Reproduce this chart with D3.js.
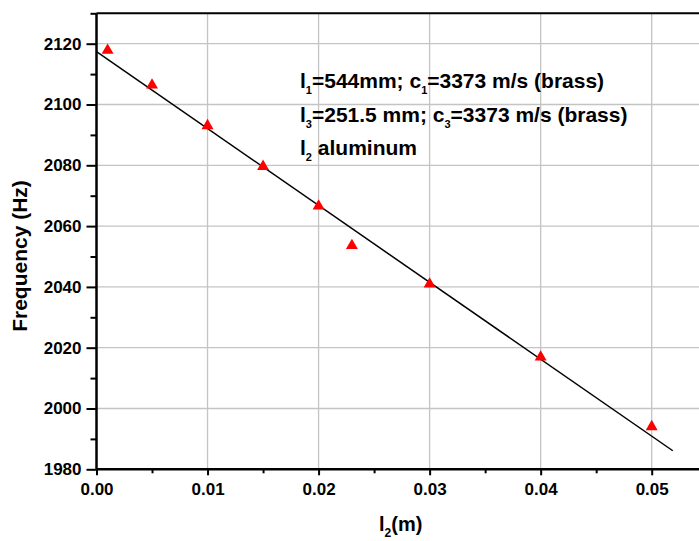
<!DOCTYPE html>
<html>
<head>
<meta charset="utf-8">
<script src="https://cdn.jsdelivr.net/npm/d3@7"></script>
<style>
body { margin: 0; background: #fff; }
svg text { font-family: "Liberation Sans", Arial, sans-serif; font-weight: bold; }
</style>
</head>
<body>
<div id="chart"></div>
<script>
// measured points: l2 (m) vs frequency (Hz)
var lengths = [0.001, 0.005, 0.010, 0.015, 0.020, 0.023, 0.030, 0.040, 0.050];
var freqs   = [2117.8, 2106.4, 2093.0, 2079.6, 2066.6, 2053.6, 2040.9, 2016.9, 1994.0];

// linear fit line end points
var fitX = [0.0, 0.0519];
var fitY = [2117.4, 1986.1];

var xTicks = [0.00, 0.01, 0.02, 0.03, 0.04, 0.05];
var yTicks = [1980, 2000, 2020, 2040, 2060, 2080, 2100, 2120];

var noteLines = [
    [["l", ""], ["1", "sub"], ["=544mm; c", ""], ["1", "sub"], ["=3373 m/s (brass)", ""]],
    [["l", ""], ["3", "sub"], ["=251.5 mm; c", ""], ["3", "sub"], ["=3373 m/s (brass)", ""]],
    [["l", ""], ["2", "sub"], [" aluminum", ""]]
];

var W = 699, H = 541;
var margin = {left: 96.5, top: 13.3};
var plotH = 469.3 - margin.top;

var x = d3.scaleLinear().domain([0, 0.055]).range([0, 0.055 * 11104]);
var y = d3.scaleLinear().domain([1980, 2130]).range([plotH, 0]);

var svg = d3.select("#chart").append("svg")
    .attr("width", W).attr("height", H);
var g = svg.append("g")
    .attr("transform", "translate(" + margin.left + "," + margin.top + ")");

// grid
g.append("g").selectAll("line").data(xTicks.slice(1)).enter().append("line")
    .attr("x1", d => x(d)).attr("x2", d => x(d))
    .attr("y1", 0).attr("y2", plotH)
    .attr("stroke", "#c4c4c4").attr("stroke-width", 1.3);
g.append("g").selectAll("line").data(yTicks.slice(1)).enter().append("line")
    .attr("x1", 0).attr("x2", W)
    .attr("y1", d => y(d)).attr("y2", d => y(d))
    .attr("stroke", "#c4c4c4").attr("stroke-width", 1.3);

// top border
g.append("line").attr("x1", 0).attr("x2", W).attr("y1", 0).attr("y2", 0)
    .attr("stroke", "#000").attr("stroke-width", 2);

// axes
var xAxis = g.append("g").attr("transform", "translate(0," + plotH + ")")
    .call(d3.axisBottom(x).tickValues(xTicks).tickFormat(d3.format(".2f")).tickSize(6).tickPadding(8));
var xMinor = g.append("g").attr("transform", "translate(0," + plotH + ")")
    .call(d3.axisBottom(x).tickValues([0.005, 0.015, 0.025, 0.035, 0.045]).tickFormat("").tickSize(4));
var yAxis = g.append("g")
    .call(d3.axisLeft(y).tickValues(yTicks).tickFormat(d3.format("d")).tickSize(10).tickPadding(5));
var yMinor = g.append("g")
    .call(d3.axisLeft(y).tickValues([1990, 2010, 2030, 2050, 2070, 2090, 2110, 2130]).tickFormat("").tickSize(6));

[xAxis, xMinor, yAxis, yMinor].forEach(function(a) {
    a.select(".domain").remove();
    a.selectAll("line").attr("stroke", "#000").attr("stroke-width", 2);
    a.selectAll("text").attr("fill", "#000").style("font-size", "17px");
});
g.append("line").attr("x1", 0).attr("x2", W).attr("y1", plotH).attr("y2", plotH)
    .attr("stroke", "#000").attr("stroke-width", 2.5);
g.append("line").attr("x1", 0).attr("x2", 0).attr("y1", 0).attr("y2", plotH)
    .attr("stroke", "#000").attr("stroke-width", 2.5);

// fit line
var line = d3.line().x(d => x(d[0])).y(d => y(d[1]));
g.append("path").datum(d3.zip(fitX, fitY))
    .attr("d", line).attr("fill", "none")
    .attr("stroke", "#000").attr("stroke-width", 1.5);

// data points
var tri = d3.symbol().type(d3.symbolTriangle).size(62);
g.append("g").selectAll("path").data(d3.zip(lengths, freqs)).enter().append("path")
    .attr("d", tri)
    .attr("transform", d => "translate(" + x(d[0]) + "," + y(d[1]) + ")")
    .attr("fill", "#ff0000");

// annotation
var noteY = [88, 122, 155];
noteLines.forEach(function(parts, i) {
    var t = svg.append("text").attr("x", 300).attr("y", noteY[i])
        .style("font-size", "21px").attr("fill", "#000");
    parts.forEach(function(p, j) {
        var s = t.append("tspan").text(p[0]);
        if (p[1] === "sub") s.attr("dy", 6).style("font-size", "11px");
        else if (j > 0 && parts[j - 1][1] === "sub") s.attr("dy", -6);
    });
});

// axis titles
svg.append("text")
    .attr("transform", "translate(27,256) rotate(-90)")
    .style("text-anchor", "middle").style("font-size", "21px")
    .text("Frequency (Hz)");

var xt = svg.append("text").attr("x", 379).attr("y", 531).style("font-size", "20px");
xt.append("tspan").text("l");
xt.append("tspan").attr("dy", 6).style("font-size", "12px").text("2");
xt.append("tspan").attr("dy", -6).text("(m)");
</script>
</body>
</html>
